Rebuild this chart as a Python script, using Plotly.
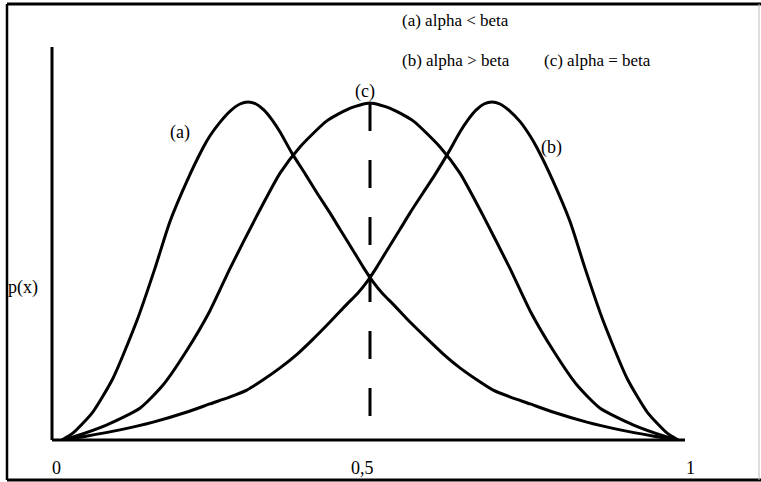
import plotly.graph_objects as go

# Curve (a): alpha < beta
x_a = [0.0, 0.018, 0.050, 0.083, 0.122, 0.151, 0.175, 0.203, 0.229, 0.240, 0.257, 0.273,
       0.289, 0.302, 0.315, 0.328, 0.341, 0.354, 0.373, 0.395, 0.414, 0.435, 0.451, 0.471,
       0.489, 0.505, 0.521, 0.537, 0.565, 0.593, 0.619, 0.646, 0.674, 0.700, 0.727, 0.760,
       0.797, 0.852, 0.906, 0.959, 1.0]
y_a = [0.0, 0.021, 0.083, 0.184, 0.356, 0.510, 0.647, 0.769, 0.867, 0.902, 0.944, 0.976,
       0.997, 1.003, 0.997, 0.979, 0.950, 0.914, 0.852, 0.789, 0.733, 0.674, 0.626, 0.567,
       0.513, 0.469, 0.433, 0.404, 0.350, 0.300, 0.255, 0.214, 0.178, 0.148, 0.128, 0.107,
       0.083, 0.053, 0.030, 0.012, 0.0]

# Curve (b): alpha > beta
x_b = [0.0, 0.041, 0.094, 0.148, 0.203, 0.240, 0.273, 0.300, 0.326, 0.354, 0.382, 0.408,
       0.435, 0.463, 0.479, 0.495, 0.511, 0.529, 0.549, 0.565, 0.586, 0.606, 0.627, 0.646,
       0.659, 0.672, 0.685, 0.698, 0.711, 0.727, 0.744, 0.760, 0.771, 0.797, 0.825, 0.849,
       0.878, 0.917, 0.950, 0.982, 1.0]
y_b = [0.0, 0.012, 0.030, 0.053, 0.083, 0.107, 0.128, 0.148, 0.178, 0.214, 0.255, 0.300,
       0.350, 0.404, 0.433, 0.469, 0.513, 0.567, 0.626, 0.674, 0.733, 0.789, 0.852, 0.914,
       0.950, 0.979, 0.997, 1.003, 0.997, 0.976, 0.944, 0.902, 0.867, 0.769, 0.647, 0.510,
       0.356, 0.184, 0.083, 0.021, 0.0]

# Curve (c): alpha = beta
x_c = [0.0, 0.018, 0.073, 0.127, 0.164, 0.203, 0.240, 0.273, 0.317, 0.354, 0.386, 0.430,
       0.468, 0.500, 0.532, 0.570, 0.614, 0.646, 0.683, 0.727, 0.760, 0.797, 0.836, 0.873,
       0.927, 0.982, 1.0]
y_c = [0.0, 0.009, 0.045, 0.095, 0.163, 0.267, 0.383, 0.510, 0.668, 0.792, 0.869, 0.947,
       0.985, 1.000, 0.985, 0.947, 0.869, 0.792, 0.668, 0.510, 0.383, 0.267, 0.163, 0.095,
       0.045, 0.009, 0.0]

# Mean marker of the symmetric curve
mean_x = 0.5
mean_top = 1.0
mean_bottom = 0.065

tick_values = [0, 0.5, 1]
tick_text = ["0", "0,5", "1"]

W, H = 761, 482
L, R, T, B = 52, 685, 47, 440        # plot area edges in pixels
X0, XSCALE = 62, 616                 # pixel of x=0 and pixels per unit
YSCALE = 337                         # pixels per unit of p(x)


def paper(px, py):
    return (px - L) / (R - L), (B - py) / (B - T)


SERIF = "Liberation Serif, Times New Roman, serif"

fig = go.Figure()
for xs, ys in [(x_a, y_a), (x_b, y_b), (x_c, y_c)]:
    fig.add_trace(go.Scatter(
        x=xs, y=ys, mode="lines",
        line=dict(color="black", width=3, shape="spline", smoothing=0.6),
        hoverinfo="skip", showlegend=False))

fig.add_trace(go.Scatter(
    x=[mean_x, mean_x], y=[mean_top, mean_bottom], mode="lines",
    line=dict(color="black", width=3, dash="28px,29px"),
    hoverinfo="skip", showlegend=False))

shapes = []
# axes
shapes.append(dict(type="line", xref="paper", yref="paper", x0=0, y0=0, x1=1, y1=0,
                   line=dict(color="black", width=3)))
shapes.append(dict(type="line", xref="paper", yref="paper", x0=0, y0=0, x1=0, y1=1,
                   line=dict(color="black", width=3)))
# frame around the figure
fl, ft = paper(7, 4)
fr, fb = paper(759, 480)
shapes.append(dict(type="line", xref="paper", yref="paper", x0=fl, y0=fb, x1=fl, y1=ft,
                   line=dict(color="black", width=2.5)))
shapes.append(dict(type="line", xref="paper", yref="paper", x0=fl, y0=ft, x1=1.2, y1=ft,
                   line=dict(color="black", width=3)))
shapes.append(dict(type="line", xref="paper", yref="paper", x0=fl, y0=fb, x1=1.2, y1=fb,
                   line=dict(color="black", width=3)))
shapes.append(dict(type="line", xref="paper", yref="paper", x0=fr, y0=fb, x1=fr, y1=ft,
                   line=dict(color="#bbbbbb", width=1)))

annotations = []


def label(text, px, py, size=18, xanchor="center"):
    xp, yp = paper(px, py)
    annotations.append(dict(text=text, x=xp, y=yp, xref="paper", yref="paper",
                            xanchor=xanchor, yanchor="middle", showarrow=False,
                            font=dict(family=SERIF, size=size, color="black")))


label("(a) alpha &lt; beta", 400, 20, size=17, xanchor="left")
label("(b) alpha &gt; beta", 400, 60, size=17, xanchor="left")
label("(c) alpha = beta", 542, 60, size=17, xanchor="left")
label("(c)", 365, 91)
label("(a)", 180, 132)
label("(b)", 551, 147)
label("p(x)", 6, 287, xanchor="left")

tick_shift = [-6, -8, 12]
for v, t, s in zip(tick_values, tick_text, tick_shift):
    annotations.append(dict(text=t, x=v, y=paper(0, 468)[1], xref="x", yref="paper",
                            xshift=s, xanchor="center", yanchor="middle", showarrow=False,
                            font=dict(family=SERIF, size=18, color="black")))

fig.update_layout(
    width=W, height=H,
    margin=dict(l=L, r=W - R, t=T, b=H - B, pad=0),
    paper_bgcolor="white", plot_bgcolor="white",
    xaxis=dict(range=[(L - X0) / XSCALE, (R - X0) / XSCALE], visible=False),
    yaxis=dict(range=[0, (B - T) / YSCALE], visible=False),
    shapes=shapes, annotations=annotations,
)

fig.write_html("out.html")
